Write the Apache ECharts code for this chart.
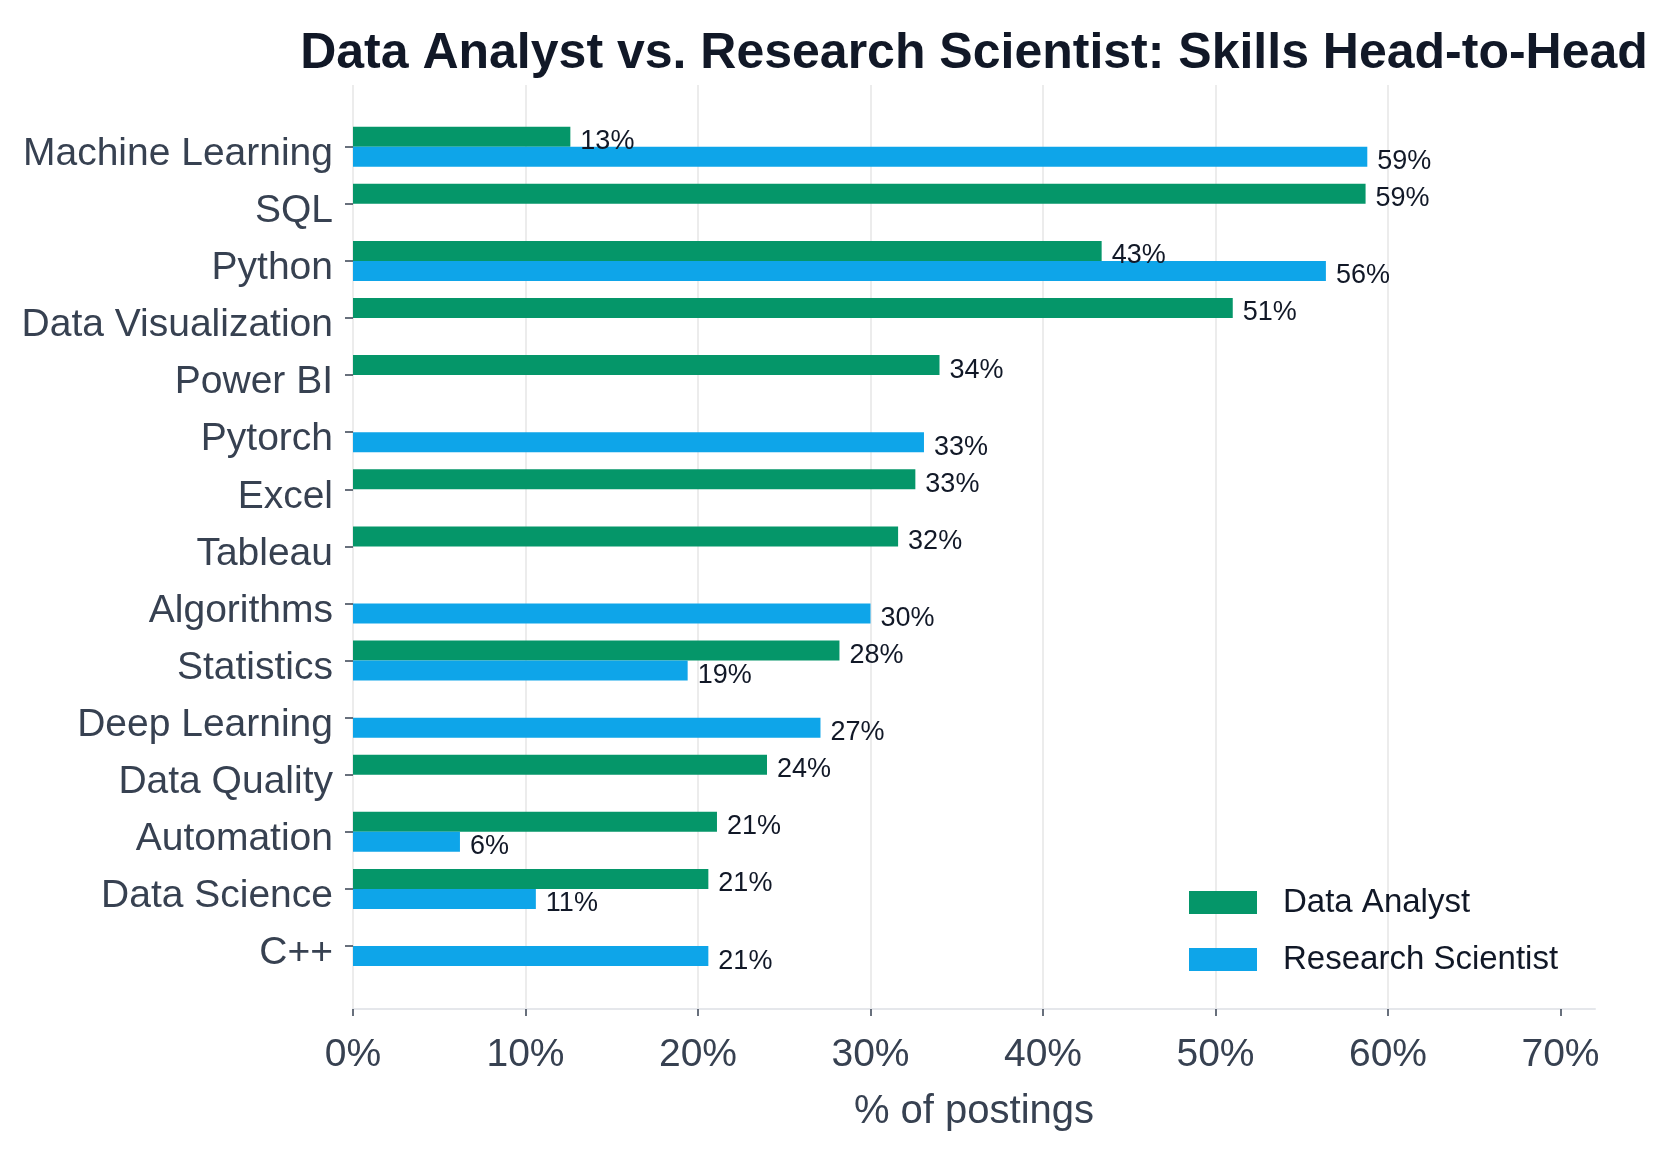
<!DOCTYPE html>
<html>
<head>
<meta charset="utf-8">
<script src="https://cdn.jsdelivr.net/npm/echarts@6/dist/echarts.min.js"></script>
<style>
  html, body { margin: 0; padding: 0; background: #ffffff; }
  #chart { width: 1672px; height: 1150px; }
</style>
</head>
<body>
<div id="chart"></div>
<script>
const categories = ['Machine Learning', 'SQL', 'Python', 'Data Visualization', 'Power BI', 'Pytorch', 'Excel', 'Tableau', 'Algorithms', 'Statistics', 'Deep Learning', 'Data Quality', 'Automation', 'Data Science', 'C++'];
const dataAnalyst = [12.6, 58.7, 43.4, 51.0, 34.0, null, 32.6, 31.6, null, 28.2, null, 24.0, 21.1, 20.6, null];
const researchScientist = [58.8, null, 56.4, null, null, 33.1, null, null, 30.0, 19.4, 27.1, null, 6.2, 10.6, 20.6];
const xTicks = [0, 10, 20, 30, 40, 50, 60, 70];
const seriesNames = ['Data Analyst', 'Research Scientist'];

const FONT = '"Liberation Sans", Arial, Helvetica, sans-serif';
const chart = echarts.init(document.getElementById('chart'), null, { renderer: 'canvas' });

const barLabel = {
  show: true,
  position: 'right',
  distance: 10,
  offset: [0, 5],
  color: '#111827',
  fontFamily: FONT,
  fontSize: 27,
  formatter: p => Math.round(p.value) + '%'
};

chart.setOption({
  animation: false,
  backgroundColor: '#ffffff',
  title: {
    text: 'Data Analyst vs. Research Scientist: Skills Head-to-Head',
    left: 969,
    top: 24,
    textAlign: 'center',
    textStyle: { fontFamily: FONT, fontWeight: 'bold', fontSize: 50, color: '#111827' }
  },
  legend: {
    orient: 'vertical',
    left: 1184,
    top: 881,
    icon: 'rect',
    itemWidth: 68,
    itemHeight: 23,
    itemGap: 24,
    textStyle: { fontFamily: FONT, fontSize: 33, lineHeight: 32, color: '#111827', padding: [0, 0, 0, 21] },
    data: seriesNames
  },
  grid: [
    { left: 353, right: 77, top: 118.2, bottom: 175.4, containLabel: false },
    { left: 353, right: 77, top: 85, bottom: 141, containLabel: false }
  ],
  xAxis: [
    { type: 'value', gridIndex: 0, min: 0, max: 72, show: false },
    {
      type: 'value', gridIndex: 1, min: 0, max: 72, interval: 10,
      axisLine: { show: true, lineStyle: { color: '#e5e7eb', width: 2 } },
      axisTick: { show: true, length: 7, lineStyle: { color: '#374151', width: 1.5 }, customValues: xTicks },
      axisLabel: {
        customValues: xTicks,
        margin: 27, fontFamily: FONT, fontSize: 39, color: '#374151',
        formatter: v => v + '%'
      },
      splitLine: { show: true, showMaxLine: false, lineStyle: { color: '#ececec', width: 2 } },
      name: '% of postings',
      nameLocation: 'middle',
      nameGap: 83,
      nameTextStyle: { fontFamily: FONT, fontSize: 40, color: '#374151' }
    }
  ],
  yAxis: [
    {
      type: 'category', gridIndex: 0, inverse: true, data: categories,
      axisLine: { show: false },
      axisTick: { show: true, alignWithLabel: true, length: 8, lineStyle: { color: '#374151', width: 1.5 } },
      axisLabel: {
        margin: 20, fontFamily: FONT, fontSize: 39, color: '#374151',
        formatter: v => '{c|' + v + '}',
        rich: { c: { fontFamily: FONT, fontSize: 39, color: '#374151', padding: [15, 0, 0, 0] } }
      },
      splitLine: { show: false }
    },
    { type: 'value', gridIndex: 1, show: false, min: 0, max: 1 }
  ],
  series: [
    {
      name: seriesNames[0], type: 'bar', xAxisIndex: 0, yAxisIndex: 0,
      data: dataAnalyst, barWidth: 20, barGap: '0%',
      itemStyle: { color: '#059669' }, label: barLabel
    },
    {
      name: seriesNames[1], type: 'bar', xAxisIndex: 0, yAxisIndex: 0,
      data: researchScientist, barWidth: 20, barGap: '0%',
      itemStyle: { color: '#0ea5e9' }, label: barLabel
    }
  ]
});
</script>
</body>
</html>
